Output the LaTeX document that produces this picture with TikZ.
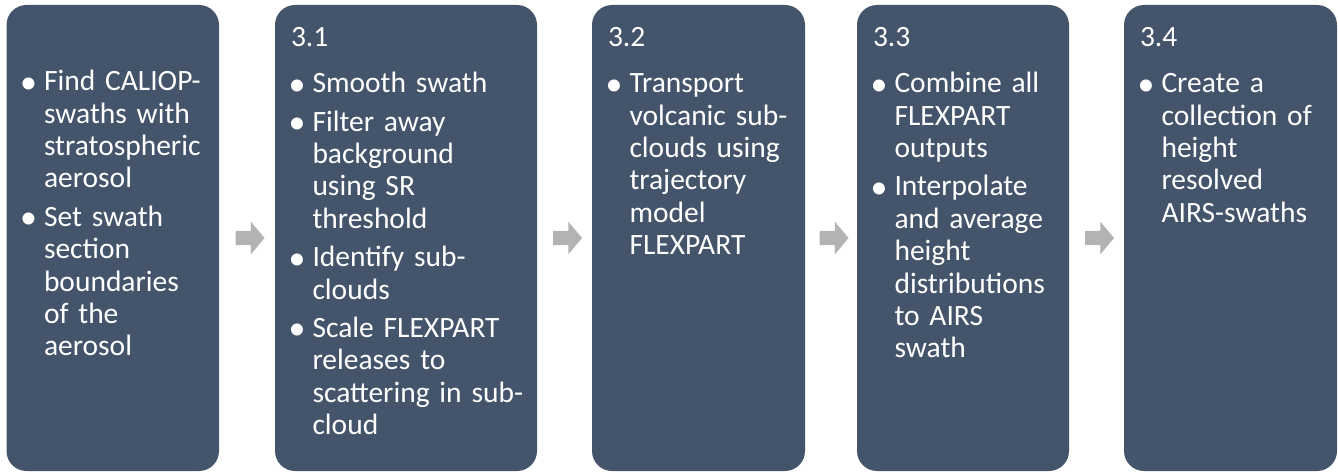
\documentclass[tikz,border=0pt]{standalone}
\usepackage{fontspec}
\setmainfont{Carlito}
\usepackage{enumitem}
\usepackage{xcolor}
\usetikzlibrary{positioning,calc,shapes.arrows}
\definecolor{slate}{HTML}{44546A}
\definecolor{arrowgray}{HTML}{B3B3B3}
\setlist[itemize]{label=\raisebox{-2.5pt}{\scalebox{1.15}{\textbullet}}, leftmargin=21.5pt, labelsep=7pt, topsep=13.5pt, partopsep=0pt, itemsep=6pt, parsep=0pt}

\begin{document}
\begin{tikzpicture}[x=1pt,y=1pt,
  stepbox/.style={fill=slate, rounded corners=20pt, minimum height=466pt, inner sep=0pt},
  steptext/.style={text=white, font=\fontsize{29.5}{32.4}\selectfont, anchor=base west, align=left, inner sep=0pt},
  flowarrow/.style={single arrow, fill=arrowgray, inner xsep=0pt, inner ysep=7pt, minimum height=29pt, single arrow head extend=9pt, single arrow tip angle=100}]
\useasboundingbox (0,0) rectangle (1338,472);
% Boxes
\node[stepbox, minimum width=212.5pt] (s1) at (112.75,234) {};
\node[stepbox, minimum width=262pt] (s2) at (406,234) {};
\node[stepbox, minimum width=213pt] (s3) at (698.5,234) {};
\node[stepbox, minimum width=212pt] (s4) at (963,234) {};
\node[stepbox, minimum width=213pt] (s5) at (1230.5,234) {};
% Arrows between the boxes
\node[flowarrow] (a1) at ($(s1.east)!0.5!(s2.west)$) {};
\node[flowarrow] (a2) at ($(s2.east)!0.5!(s3.west)$) {};
\node[flowarrow] (a3) at ($(s3.east)!0.5!(s4.west)$) {};
\node[flowarrow] (a4) at ($(s4.east)!0.5!(s5.west)$) {};
% Box texts
\node[steptext, text width=196pt] (t1) at ([shift={(16,-40)}]s1.north west) {\mbox{}
  \begin{itemize}
  \item Find CALIOP-\\swaths with\\stratospheric\\aerosol
  \item Set swath\\section\\boundaries\\of the\\aerosol
  \end{itemize}};
\node[steptext, text width=246pt] (t2) at ([shift={(16,-42)}]s2.north west) {3.1
  \begin{itemize}
  \item Smooth swath
  \item Filter away\\background\\using SR\\threshold
  \item Identify sub-\\clouds
  \item Scale FLEXPART\\releases to\\scattering in sub-\\cloud
  \end{itemize}};
\node[steptext, text width=197pt] (t3) at ([shift={(16,-42)}]s3.north west) {3.2
  \begin{itemize}
  \item Transport\\volcanic sub-\\clouds using\\trajectory\\model\\FLEXPART
  \end{itemize}};
\node[steptext, text width=196pt] (t4) at ([shift={(16,-42)}]s4.north west) {3.3
  \begin{itemize}
  \item Combine all\\FLEXPART\\outputs
  \item Interpolate\\and average\\height\\distributions\\to AIRS\\swath
  \end{itemize}};
\node[steptext, text width=197pt] (t5) at ([shift={(16,-42)}]s5.north west) {3.4
  \begin{itemize}
  \item Create a\\collection of\\height\\resolved\\AIRS-swaths
  \end{itemize}};
\end{tikzpicture}
\end{document}
